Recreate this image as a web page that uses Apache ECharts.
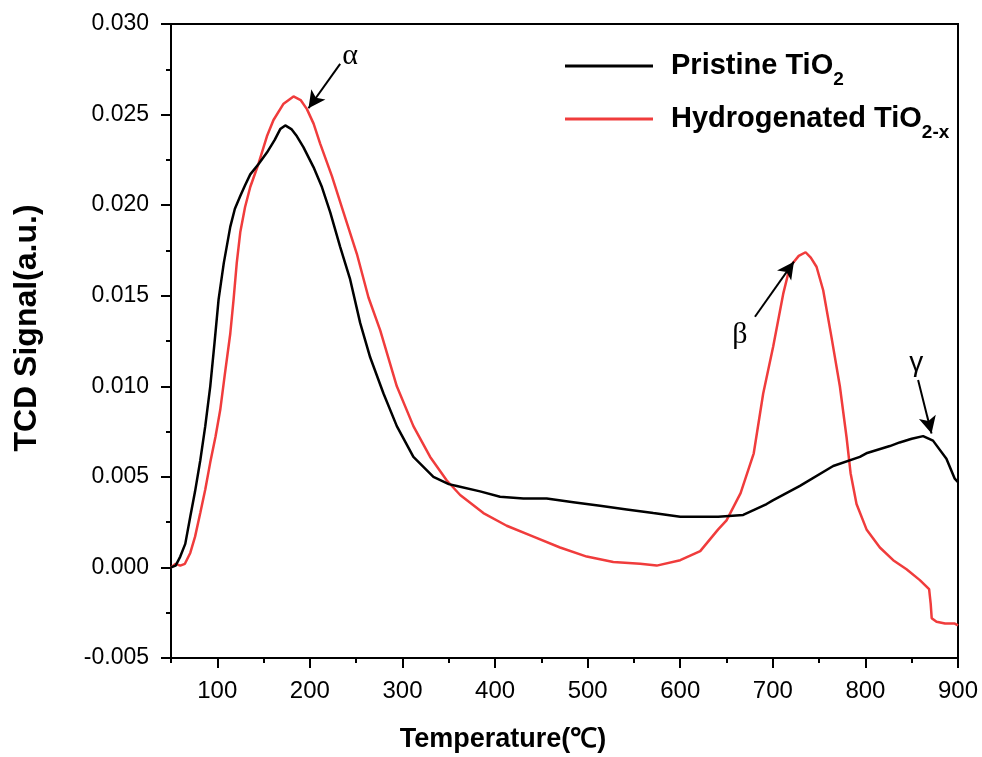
<!DOCTYPE html>
<html><head><meta charset="utf-8">
<script src="https://cdn.jsdelivr.net/npm/echarts@6/dist/echarts.min.js"></script>
<style>html,body{margin:0;padding:0;background:#fff}#c{width:982px;height:757px}</style>
</head><body><div id="c"></div>
<script>
// ---- data ----
const pristineT = [50,55,60,65.4,70.8,76,81.6,87,92.4,97,101.4,107,114,119,124.8,130,135.6,145,153.6,162,168,173.4,180,186,193,203.9,213,222,232.7,243.5,254.3,265.1,279.5,293.9,311.8,333.4,350,358.7,383.8,405.4,430.6,455.8,484.5,513.4,542.2,570.9,600,628.5,641,668,693.3,700,729.3,765.2,794,801,826.4,837,850,862.3,873,887.5,896.5,900];
const pristineV = [0,0.0001,0.0006,0.0013,0.0028,0.0042,0.0059,0.0078,0.0100,0.0124,0.0148,0.0168,0.0188,0.0198,0.0205,0.0211,0.0217,0.0223,0.0229,0.0236,0.0242,0.0244,0.0242,0.0238,0.0232,0.0221,0.0210,0.0196,0.0177,0.0159,0.0135,0.0116,0.0096,0.0078,0.0061,0.0050,0.0046,0.0045,0.0042,0.0039,0.0038,0.0038,0.0036,0.0034,0.0032,0.0030,0.0028,0.0028,0.0028,0.0029,0.0035,0.0037,0.0045,0.0056,0.0061,0.0063,0.0067,0.0069,0.0071,0.00725,0.0070,0.0060,0.0049,0.0047];
const hydroT = [50,55,60,65,70.8,76,81.6,87,92.4,98,103.2,108,114,117.6,121,124.8,130,135.6,144.6,153.6,160.7,171.6,182.3,190,196.8,204,211.1,223.8,236.3,250.8,263.3,275.9,293.9,311.8,329.9,347.9,362.3,387.4,412.6,441.4,470.2,499,527.7,556.7,574.6,600,621.6,641,650,665.2,679.4,689.6,700.4,711.2,718.4,728,735.4,741,747.2,754.4,763.4,772.4,779.6,784,790.4,801.2,815.6,830,844.4,858.8,868.8,870.5,871.6,876.8,886,896.5,900];
const hydroV = [0,0.0002,0.0001,0.0002,0.0008,0.0017,0.0030,0.0043,0.0058,0.0072,0.0087,0.0106,0.0129,0.0148,0.0168,0.0185,0.0199,0.0210,0.0223,0.0238,0.0247,0.0256,0.0260,0.0258,0.0253,0.0245,0.0234,0.0216,0.0196,0.0173,0.0149,0.0131,0.0100,0.0078,0.0061,0.0048,0.0040,0.0030,0.0023,0.0017,0.0011,0.0006,0.0003,0.0002,0.0001,0.0004,0.0009,0.0021,0.0026,0.0041,0.0063,0.0096,0.0122,0.0151,0.0166,0.0172,0.0174,0.0171,0.0166,0.0153,0.0127,0.0100,0.0072,0.0052,0.0035,0.0021,0.0011,0.0004,-0.0001,-0.0007,-0.0012,-0.0020,-0.0028,-0.0030,-0.0031,-0.0031,-0.0032];
const seriesNames = ['Pristine TiO2','Hydrogenated TiO2-x'];
const xMajorTicks = [100,200,300,400,500,600,700,800,900];
const xMinorTicks = [50,150,250,350,450,550,650,750,850];
const arrowFrom = [[232.7,0.0278],[680.7,0.01384],[856.9,0.01035]];
const arrowTo   = [[198.5,0.02535],[722.8,0.01688],[871.4,0.0074]];
const peakLabels = ['α','β','γ'];
const peakLabelAt = [[243.5,0.0282],[664.5,0.01283],[855,0.01127]];

const chart = echarts.init(document.getElementById('c'));
const F = 'Liberation Sans, Arial, sans-serif';
const mkData = (T,V) => T.map((t,i)=>[t,V[i]]);
const labelFonts = ['Liberation Serif, serif','Liberation Serif, serif','Liberation Sans, sans-serif'];
const labelSizes = [30,30,28];

chart.setOption({
  animation:false,
  backgroundColor:'#fff',
  grid:{left:171,right:24,top:24,bottom:99,show:true,borderColor:'#000',borderWidth:2},
  legend:{
    data:seriesNames, orient:'vertical', left:560, top:37, icon:'rect',
    itemWidth:88, itemHeight:3, itemGap:6,
    formatter:n => n===seriesNames[0] ? 'Pristine TiO{s|2}' : 'Hydrogenated TiO{s|2-x}',
    textStyle:{fontSize:29,fontWeight:'bold',color:'#000',fontFamily:F,lineHeight:46,padding:[0,0,0,13],
      rich:{s:{fontSize:19,fontWeight:'bold',fontFamily:F,color:'#000',lineHeight:20,padding:[28,0,0,0],verticalAlign:'bottom'}}}
  },
  xAxis:[{
    type:'value',min:50,max:900,interval:50,position:'bottom',
    axisLine:{onZero:false,lineStyle:{color:'#000',width:2}},
    axisTick:{customValues:xMajorTicks,length:10,lineStyle:{color:'#000',width:2}},
    axisLabel:{customValues:xMajorTicks,fontSize:24,color:'#000',margin:21,fontFamily:F},
    splitLine:{show:false}
  },{
    type:'value',min:50,max:900,interval:50,position:'bottom',
    axisLine:{show:false,onZero:false},
    axisTick:{customValues:xMinorTicks,length:5,lineStyle:{color:'#000',width:2}},
    axisLabel:{show:false},splitLine:{show:false}
  }],
  yAxis:{
    type:'value',min:-0.005,max:0.03,interval:0.005,
    axisLine:{show:true,onZero:false,lineStyle:{color:'#000',width:2}},
    axisTick:{show:true,length:10,lineStyle:{color:'#000',width:2}},
    minorTick:{show:true,splitNumber:2,length:5,lineStyle:{color:'#000',width:2}},
    axisLabel:{fontSize:23,color:'#000',margin:22,fontFamily:F,formatter:v=>v.toFixed(3)},
    splitLine:{show:false},minorSplitLine:{show:false}
  },
  graphic:[
    {type:'text',x:27,y:328,rotation:Math.PI/2,style:{text:'TCD Signal(a.u.)',fontSize:32,fontWeight:'bold',fontFamily:F,fill:'#000',align:'center',verticalAlign:'middle'}},
    {type:'text',x:503,y:740,style:{text:'Temperature(℃)',fontSize:27,fontWeight:'bold',fontFamily:F,fill:'#000',align:'center',verticalAlign:'middle'}}
  ],
  series:[
    {name:seriesNames[0],type:'line',showSymbol:false,data:mkData(pristineT,pristineV),
     color:'#000',lineStyle:{color:'#000',width:2.5},z:3,
     markLine:{silent:true,symbol:['none','arrow'],symbolSize:[13,17],
       lineStyle:{color:'#000',width:2,type:'solid'},label:{show:false},
       data:arrowFrom.map((f,i)=>[{coord:f},{coord:arrowTo[i]}])},
     markPoint:{silent:true,symbol:'circle',symbolSize:0,
       data:peakLabels.map((t,i)=>({name:t,coord:peakLabelAt[i],
         label:{show:true,position:'inside',formatter:t,color:'#000',fontSize:labelSizes[i],fontFamily:labelFonts[i]}}))}
    },
    {name:seriesNames[1],type:'line',showSymbol:false,data:mkData(hydroT,hydroV),
     color:'#f03c3c',lineStyle:{color:'#f03c3c',width:2.5},z:2}
  ]
});
</script></body></html>
